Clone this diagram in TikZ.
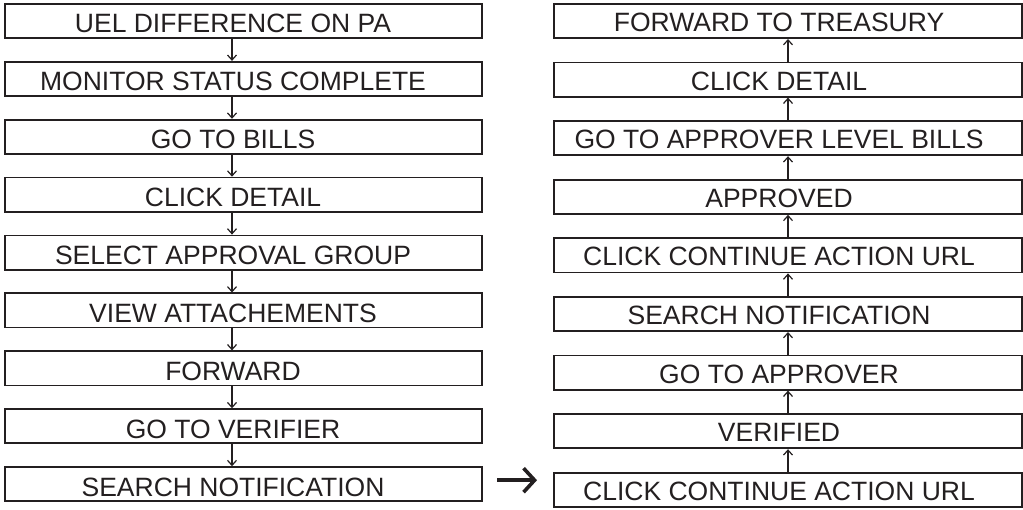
\documentclass[tikz,border=0pt]{standalone}
\usepackage{fontspec}
\setmainfont{Liberation Sans}
\usetikzlibrary{arrows.meta,calc}
\definecolor{ink}{HTML}{231F20}
\begin{document}
\begin{tikzpicture}[x=1pt,y=-1pt,
  box/.style={draw=ink, line width=1.8pt, minimum height=34.2pt, inner sep=0pt},
  lbox/.style={box, minimum width=477.2pt},
  rbox/.style={box, minimum width=468.2pt},
  txt/.style={text=ink, font=\fontsize{26.5}{30}\selectfont, anchor=base, inner sep=0pt},
  flow/.style={draw=ink, line width=1.2pt, -{Straight Barb[length=5pt,width=9pt]}},
  jump/.style={draw=ink, line width=3.6pt, -{Straight Barb[length=11pt,width=24pt]}}]
\useasboundingbox (0,0) rectangle (1023,510);
\foreach \t [count=\i] in {UEL DIFFERENCE ON PA, MONITOR STATUS COMPLETE, GO TO BILLS, CLICK DETAIL, SELECT APPROVAL GROUP, VIEW ATTACHEMENTS, FORWARD, GO TO VERIFIER, SEARCH NOTIFICATION} {
  \pgfmathsetmacro\cy{21+57.9*(\i-1)}
  \node[lbox] (L\i) at (243.5,\cy) {};
  \node[txt] (L\i t) at (233,\cy+11.8) {\t};
}
\foreach \t [count=\i] in {FORWARD TO TREASURY, CLICK DETAIL, GO TO APPROVER LEVEL BILLS, APPROVED, CLICK CONTINUE ACTION URL, SEARCH NOTIFICATION, GO TO APPROVER, VERIFIED, CLICK CONTINUE ACTION URL} {
  \pgfmathsetmacro\cy{21+58.6*(\i-1)}
  \node[rbox] (R\i) at (788,\cy) {};
  \node[txt] (R\i t) at (779,\cy+10.6) {\t};
}
\foreach \i [evaluate=\i as \j using int(\i+1)] in {1,...,8} {
  \draw[flow] ([xshift=-11.5pt]L\i.south) -- ([xshift=-11.5pt]L\j.north);
  \draw[flow] (R\j.north) -- (R\i.south);
}
\draw[jump] ($(L9.east)+(14,-4)$) -- ($(L9.east -| R9.west)+(-16,-4)$);
\end{tikzpicture}
\end{document}
